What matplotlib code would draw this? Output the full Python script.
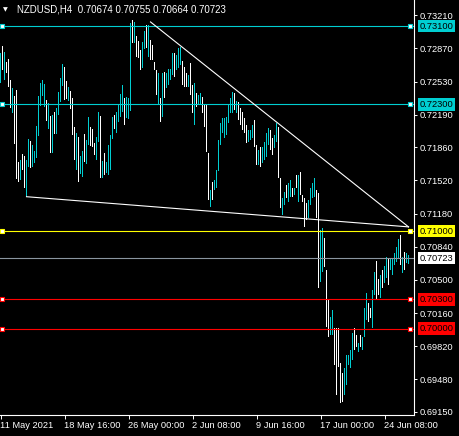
import matplotlib
matplotlib.use("Agg")
import matplotlib.pyplot as plt
import matplotlib.transforms as mtransforms

# ---------------- data ----------------
symbol_title = "NZDUSD,H4  0.70674 0.70755 0.70664 0.70723"

highs = [
    0.72824, 0.72896, 0.72835, 0.72732, 0.72763, 0.72548, 0.72466, 0.72384, 0.72445, 0.71708,
    0.71729, 0.71790, 0.71770, 0.71729, 0.71944, 0.71923, 0.71882, 0.71821, 0.72077, 0.72384,
    0.72517, 0.72548, 0.72507, 0.72343, 0.72312, 0.72179, 0.72189, 0.72220, 0.72261, 0.72425,
    0.72568, 0.72712, 0.72681, 0.72538, 0.72476, 0.72435, 0.72363, 0.72067, 0.72005, 0.71964,
    0.71770, 0.71821, 0.71995, 0.71933, 0.72169, 0.72067, 0.72046, 0.71903, 0.71964, 0.72220,
    0.72179, 0.71718, 0.71800, 0.71708, 0.71882, 0.71985, 0.72169, 0.72189, 0.72220, 0.72302,
    0.72404, 0.72497, 0.72363, 0.72374, 0.72363, 0.73131, 0.73162, 0.73142, 0.72998, 0.72947,
    0.72855, 0.72937, 0.73050, 0.73111, 0.73111, 0.72957, 0.72906, 0.72732, 0.72650, 0.72619,
    0.72363, 0.72619, 0.72630, 0.72619, 0.72660, 0.72660, 0.72824, 0.72824, 0.72804, 0.72875,
    0.72886, 0.72742, 0.72681, 0.72619, 0.72599, 0.72722, 0.72497, 0.72517, 0.72415, 0.72394,
    0.72415, 0.72374, 0.72292, 0.72292, 0.71800, 0.71421, 0.71503, 0.71524, 0.71626, 0.71933,
    0.72107, 0.72159, 0.72159, 0.72169, 0.72292, 0.72363, 0.72425, 0.72415, 0.72333, 0.72323,
    0.72261, 0.72220, 0.72159, 0.72087, 0.72036, 0.72036, 0.72087, 0.72138, 0.71882, 0.71831,
    0.71862, 0.71862, 0.71913, 0.72005, 0.72056, 0.72036, 0.71954, 0.71985, 0.72107, 0.72067,
    0.71544, 0.71339, 0.71401, 0.71473, 0.71493, 0.71524, 0.71442, 0.71442, 0.71575, 0.71575,
    0.71606, 0.71370, 0.71339, 0.71288, 0.71319, 0.71442, 0.71493, 0.71544, 0.71421, 0.71391,
    0.71012, 0.71032, 0.70930, 0.70602, 0.70295, 0.70121, 0.70193, 0.70008, 0.70008, 0.70008,
    0.69650, 0.69547, 0.69599, 0.69732, 0.69732, 0.69783, 0.69957, 0.70008, 0.69937, 0.69855,
    0.69937, 0.69916, 0.70213, 0.70367, 0.70264, 0.70213, 0.70397, 0.70582, 0.70694, 0.70510,
    0.70551, 0.70602, 0.70643, 0.70735, 0.70725, 0.70725, 0.70715, 0.70776, 0.70838, 0.70920,
    0.70961, 0.70735, 0.70787, 0.70776, 0.70755,
]
lows = [
    0.72517, 0.72650, 0.72548, 0.72619, 0.72476, 0.72261, 0.72210, 0.71892, 0.71534, 0.71503,
    0.71524, 0.71626, 0.71442, 0.71350, 0.71657, 0.71647, 0.71657, 0.71698, 0.71749, 0.71974,
    0.72282, 0.72384, 0.72271, 0.72128, 0.72046, 0.71800, 0.71800, 0.71995, 0.71995, 0.72189,
    0.72323, 0.72486, 0.72343, 0.72353, 0.72333, 0.72251, 0.71985, 0.71729, 0.71626, 0.71503,
    0.71585, 0.71555, 0.71708, 0.71688, 0.71882, 0.71872, 0.71862, 0.71780, 0.71729, 0.71913,
    0.71544, 0.71544, 0.71575, 0.71595, 0.71575, 0.71626, 0.71944, 0.72046, 0.72005, 0.72118,
    0.72169, 0.72220, 0.72087, 0.72159, 0.72148, 0.72230, 0.72927, 0.72927, 0.72783, 0.72773,
    0.72650, 0.72671, 0.72865, 0.72875, 0.72783, 0.72753, 0.72753, 0.72650, 0.72394, 0.72292,
    0.72118, 0.72169, 0.72363, 0.72466, 0.72497, 0.72548, 0.72599, 0.72579, 0.72650, 0.72671,
    0.72701, 0.72497, 0.72476, 0.72476, 0.72476, 0.72394, 0.72210, 0.72087, 0.72271, 0.72292,
    0.72292, 0.72210, 0.72067, 0.71811, 0.71319, 0.71247, 0.71319, 0.71421, 0.71442, 0.71616,
    0.71882, 0.72005, 0.71954, 0.71985, 0.72107, 0.72210, 0.72210, 0.72241, 0.72210, 0.72138,
    0.72087, 0.72036, 0.72005, 0.71903, 0.71913, 0.71933, 0.71954, 0.71862, 0.71677, 0.71677,
    0.71657, 0.71698, 0.71729, 0.71759, 0.71882, 0.71831, 0.71780, 0.71851, 0.71913, 0.71544,
    0.71237, 0.71165, 0.71268, 0.71339, 0.71299, 0.71350, 0.71350, 0.71370, 0.71442, 0.71299,
    0.71370, 0.71299, 0.71043, 0.71114, 0.71135, 0.71268, 0.71339, 0.71350, 0.71135, 0.70418,
    0.70479, 0.70582, 0.70633, 0.70019, 0.69916, 0.69937, 0.69937, 0.69629, 0.69322, 0.69609,
    0.69240, 0.69251, 0.69322, 0.69425, 0.69629, 0.69599, 0.69681, 0.69783, 0.69814, 0.69763,
    0.69814, 0.69783, 0.69916, 0.70090, 0.70070, 0.70111, 0.70008, 0.70346, 0.70305, 0.70346,
    0.70315, 0.70418, 0.70469, 0.70520, 0.70449, 0.70602, 0.70551, 0.70653, 0.70684, 0.70725,
    0.70653, 0.70571, 0.70602, 0.70674, 0.70664,
]
# 1 = bullish (cyan), 0 = bearish (white)
bull = [
    1, 0, 1, 0, 0, 0, 1, 0, 0, 0,
    1, 0, 0, 1, 1, 0, 1, 1, 1, 1,
    1, 1, 1, 0, 1, 0, 1, 0, 1, 1,
    1, 1, 0, 0, 1, 0, 0, 0, 1, 0,
    1, 1, 0, 1, 1, 0, 0, 0, 1, 1,
    0, 1, 0, 1, 1, 1, 1, 0, 1, 1,
    1, 1, 0, 1, 1, 1, 0, 1, 0, 0,
    0, 1, 1, 0, 1, 0, 0, 0, 0, 1,
    0, 1, 0, 1, 1, 1, 1, 0, 1, 1,
    1, 0, 0, 0, 1, 0, 0, 1, 0, 1,
    1, 0, 0, 0, 0, 1, 0, 1, 1, 1,
    1, 1, 1, 1, 1, 1, 1, 0, 1, 0,
    0, 0, 0, 0, 1, 1, 1, 0, 0, 1,
    0, 1, 1, 1, 1, 0, 0, 1, 1, 0,
    0, 1, 1, 0, 1, 1, 0, 1, 0, 1,
    0, 0, 0, 0, 1, 1, 1, 1, 0, 0,
    1, 1, 0, 0, 0, 1, 1, 0, 0, 0,
    0, 0, 1, 1, 1, 1, 1, 0, 0, 1,
    0, 1, 1, 1, 0, 0, 1, 1, 0, 0,
    1, 0, 1, 1, 0, 1, 1, 1, 1, 1,
    0, 1, 0, 1, 1,
]

# horizontal levels
level_prices = [0.73100, 0.72300, 0.71000, 0.70723, 0.70300, 0.70000]
level_labels = ["0.73100", "0.72300", "0.71000", "0.70723", "0.70300", "0.70000"]
level_colors = ["#00CED1", "#00CED1", "#FFFF00", "#8A95A0", "#FF0000", "#FF0000"]
level_box_colors = ["#00CED1", "#00CED1", "#FFFF00", "#FFFFFF", "#FF0000", "#FF0000"]
level_has_marker = [True, True, True, False, True, True]

# trend lines: (bar index, price) endpoints
upper_trend_bars = [75, 204]
upper_trend_prices = [0.73142, 0.71043]
lower_trend_bars = [13, 204]
lower_trend_prices = [0.71352, 0.71043]

y_tick_values = [0.73210, 0.72870, 0.72530, 0.72190, 0.71860, 0.71520, 0.71180,
                 0.70840, 0.70500, 0.70160, 0.69820, 0.69480, 0.69150]
y_tick_labels = ["0.73210", "0.72870", "0.72530", "0.72190", "0.71860", "0.71520", "0.71180",
                 "0.70840", "0.70500", "0.70160", "0.69820", "0.69480", "0.69150"]
x_tick_bars = [0, 32, 64, 96, 128, 160, 192]
x_tick_labels = ["11 May 2021", "18 May 16:00", "26 May 00:00", "2 Jun 08:00",
                 "9 Jun 16:00", "17 Jun 00:00", "24 Jun 08:00"]

# ---------------- figure ----------------
W, H = 459, 436
fig = plt.figure(figsize=(W / 100, H / 100), dpi=100, facecolor="black")
ax_right_px = 413.5
ax_bottom_px = 414.5
ax = fig.add_axes([0, (H - ax_bottom_px) / H, ax_right_px / W, ax_bottom_px / H])
ax.set_facecolor("black")

FONT = "Liberation Sans"
FS = 6.7

n = len(highs)
xs = list(range(n))
cols = ["#00CED1" if b else "#FFFFFF" for b in bull]
spans = [h - l for h, l in zip(highs, lows)]
ax.bar(xs, spans, bottom=lows, width=0.6, color=cols, linewidth=0,
       antialiased=False, zorder=3)

# levels (drawn over the bars)
for p, c in zip(level_prices, level_colors):
    ax.axhline(p, color=c, linewidth=0.8, zorder=4)

trans = mtransforms.blended_transform_factory(ax.transAxes, ax.transData)
for p, c, m in zip(level_prices, level_colors, level_has_marker):
    if m:
        ax.plot([0.006, 0.991], [p, p], linestyle="none", marker="s", markersize=3.4,
                markerfacecolor="white", markeredgecolor=c, markeredgewidth=0.8,
                transform=trans, zorder=6, clip_on=False)

# trend lines
ax.plot(upper_trend_bars, upper_trend_prices, color="white", linewidth=0.8, zorder=5)
ax.plot(lower_trend_bars, lower_trend_prices, color="white", linewidth=0.8, zorder=5)

# limits
ax.set_xlim(-0.25, -0.25 + ax_right_px / 2)
ppu = 396.4 / 0.0406
ax.set_ylim(0.7321 - (ax_bottom_px - 15.3) / ppu, 0.7321 + 15.3 / ppu)

# spines
for s in ["top", "left"]:
    ax.spines[s].set_visible(False)
for s in ["right", "bottom"]:
    ax.spines[s].set_color("white")
    ax.spines[s].set_linewidth(0.8)

ax.yaxis.tick_right()
ax.set_yticks(y_tick_values)
ax.set_yticklabels(y_tick_labels, fontsize=FS, family=FONT, color="white")
ax.tick_params(axis="y", colors="white", length=2.5, width=0.7, pad=2, direction="out")

ax.set_xticks(x_tick_bars)
ax.set_xticklabels(x_tick_labels, fontsize=FS, family=FONT, color="white")
ax.tick_params(axis="x", colors="white", length=3, width=0.7, pad=1.5, direction="out")
for lbl in ax.get_xticklabels():
    lbl.set_horizontalalignment("left")

# price label boxes on the axis
for p, t, bc in zip(level_prices, level_labels, level_box_colors):
    ax.annotate(t, xy=(1, p), xycoords=trans, xytext=(4.3, 0), textcoords="offset points",
                ha="left", va="center", fontsize=FS, family=FONT, color="black",
                bbox=dict(boxstyle="square,pad=0.2", fc=bc, ec="none"),
                zorder=10, annotation_clip=False)

# title
fig.text(3 / W, 1 - 9.5 / H, "\u25BC", fontsize=4.5, color="white", va="center", ha="left",
         family="DejaVu Sans")
fig.text(17 / W, 1 - 9.5 / H, symbol_title, fontsize=7.0, color="white", va="center",
         ha="left", family=FONT)

fig.savefig("out.png", dpi=100, facecolor="black")
